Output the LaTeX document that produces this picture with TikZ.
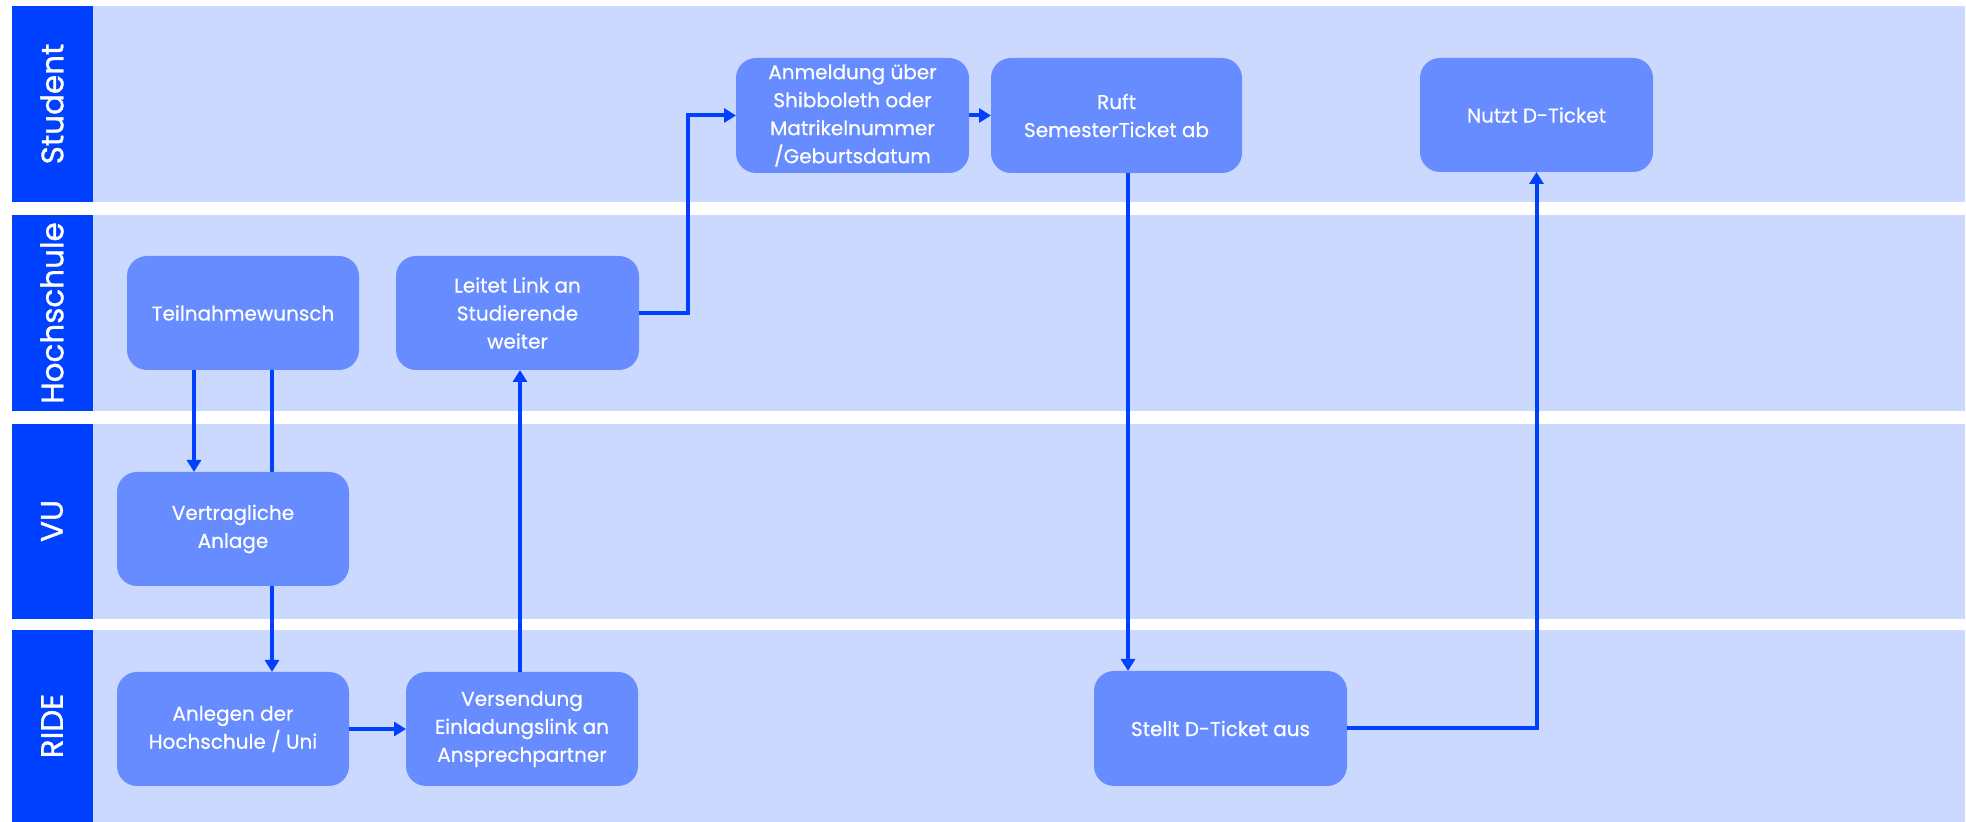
\documentclass[tikz,border=0pt]{standalone}
\usepackage{fontspec}
\setmainfont{Poppins}
\newfontfamily\boxfont{Poppins}[FakeBold=0.5]
\newfontfamily\lanefont{Poppins}[FakeBold=1]
\usetikzlibrary{arrows.meta}
\definecolor{lanebg}{HTML}{CCD9FE}
\definecolor{lanehead}{HTML}{0040FF}
\definecolor{boxfill}{HTML}{678CFF}
\definecolor{arrowc}{HTML}{0040FF}
\tikzset{
  lane/.style={fill=lanebg, draw=none},
  lanelabel/.style={fill=lanehead, draw=none},
  lanetext/.style={text=white, rotate=90, font=\lanefont\fontsize{15.5}{18}\selectfont, inner sep=0pt},
  procbox/.style={fill=boxfill, draw=none, rounded corners=10pt, text=white, align=center,
    font=\boxfont\fontsize{10}{14}\selectfont, inner sep=0pt, outer sep=0pt,
    minimum width=116pt, minimum height=57pt},
  arr/.style={draw=arrowc, line width=2pt, -{Triangle[width=7pt,length=6pt]}},
}
\begin{document}
\begin{tikzpicture}[x=0.5pt, y=-0.5pt]
\useasboundingbox (0,0) rectangle (1966,822);
\fill[white] (0,0) rectangle (1966,822);
% lanes
\fill[lane] (93,6) rectangle (1965,202);
\fill[lane] (93,215) rectangle (1965,411);
\fill[lane] (93,424) rectangle (1965,619);
\fill[lane] (93,630) rectangle (1965,822);
\fill[lanelabel] (12,6) rectangle (93,202);
\fill[lanelabel] (12,215) rectangle (93,411);
\fill[lanelabel] (12,424) rectangle (93,619);
\fill[lanelabel] (12,630) rectangle (93,822);
\node[lanetext] (lstudent) at (52,104) {Student};
\node[lanetext] (lhoch) at (52,313) {Hochschule};
\node[lanetext] (lvu) at (52,521) {VU};
\node[lanetext] (lride) at (52,726) {RIDE};

% boxes (VU drawn later so line passes behind)
\node[procbox] (teil) at (243,313) {Teilnahmewunsch};
\node[procbox] (anl) at (233,729) {Anlegen der\\Hochschule / Uni};
\node[procbox] (vers) at (522,729) {Versendung\\Einladungslink an\\Ansprechpartner};
\node[procbox, minimum width=121.5pt] (leit) at (517.5,313) {Leitet Link an\\Studierende\\weiter};
\node[procbox, minimum width=116.5pt, minimum height=57.5pt] (anm) at (852.5,115.5) {Anmeldung über\\Shibboleth oder\\Matrikelnummer\\/Geburtsdatum};
\node[procbox, minimum width=125.5pt, minimum height=57.5pt] (ruft) at (1116.5,115.5) {Ruft\\SemesterTicket ab};
\node[procbox, minimum width=116.5pt] (nutzt) at (1536.5,115) {Nutzt D-Ticket};
\node[procbox, minimum width=126.5pt, minimum height=57.5pt] (stellt) at (1220.5,728.5) {Stellt D-Ticket aus};

% connector passing behind VU box
\draw[arr] (272,0 |- teil.south) -- (272,0 |- anl.north);
\node[procbox] (vu) at (233,529) {Vertragliche\\Anlage};

\draw[arr] (194,0 |- teil.south) -- (194,0 |- vu.north);
\draw[arr] (anl.east) -- (vers.west);
\draw[arr] (520,0 |- vers.north) -- (520,0 |- leit.south);
\coordinate (bend) at (688,313);
\draw[arr] (leit.east) -- (bend) |- (anm.west);
\draw[arr] (anm.east) -- (ruft.west);
\draw[arr] (1128,0 |- ruft.south) -- (1128,0 |- stellt.north);
\draw[arr] (stellt.east) -| (nutzt.south);
\end{tikzpicture}
\end{document}
